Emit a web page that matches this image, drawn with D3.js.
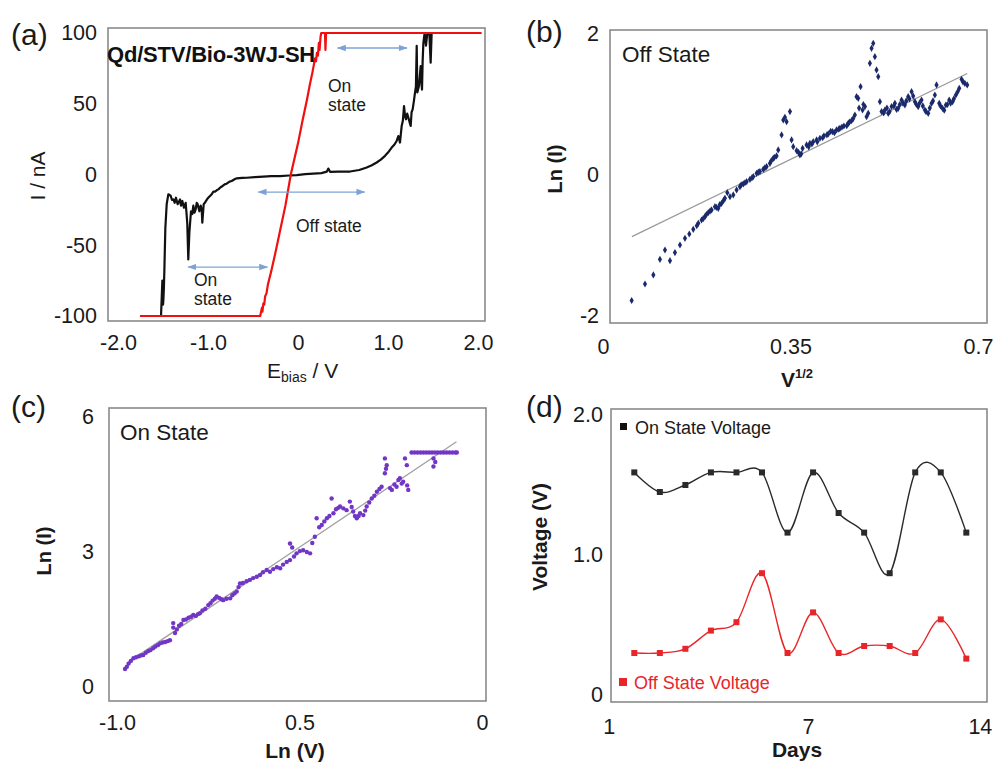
<!DOCTYPE html>
<html><head><meta charset="utf-8">
<script src="https://cdn.jsdelivr.net/npm/d3@7"></script>
<style>
html,body{margin:0;padding:0;background:#fff;}
svg{display:block;}
</style></head><body>
<svg id="chart" width="999" height="766"></svg>
<script>
// ---------------- DATA ----------------
// (a) I-V curves (E_bias in V, I in nA)
const blackIV = [[-1.53,-100],[-1.522,-100],[-1.507,-75],[-1.50,-92],[-1.496,-89],[-1.49,-80],[-1.485,-68],[-1.474,-38],[-1.459,-21],[-1.441,-14],[-1.415,-15],[-1.40,-18],[-1.385,-17.6],[-1.37,-20],[-1.356,-16.4],[-1.337,-21],[-1.311,-17.6],[-1.30,-22],[-1.285,-18.7],[-1.267,-23.5],[-1.248,-20],[-1.238,-28],[-1.230,-35],[-1.219,-60],[-1.207,-41],[-1.189,-26],[-1.175,-28],[-1.163,-22],[-1.15,-27],[-1.137,-24.6],[-1.125,-20],[-1.115,-21],[-1.096,-26],[-1.081,-22],[-1.07,-25],[-1.063,-34],[-1.048,-21],[-1.035,-20],[-1.022,-18.7],[-1.005,-17],[-0.989,-15.9],[-0.975,-15],[-0.959,-14],[-0.94,-12],[-0.922,-12.1],[-0.90,-11],[-0.885,-10.5],[-0.86,-9],[-0.837,-8.1],[-0.815,-7],[-0.793,-6.5],[-0.76,-5],[-0.737,-4.6],[-0.70,-3.2],[-0.681,-2.7],[-0.62,-2.4],[-0.57,-2.3],[-0.48,-1.8],[-0.385,-1.5],[-0.30,-1.2],[-0.20,-1.1],[-0.10,-0.7],[-0.015,-0.4],[0.08,0.2],[0.17,0.6],[0.26,1.0],[0.32,2.0],[0.337,4.2],[0.356,1.9],[0.45,2.0],[0.578,2.1],[0.68,3.2],[0.763,5.0],[0.82,6.5],[0.874,8.5],[0.92,10.5],[0.967,13.2],[1.00,15.5],[1.041,19],[1.07,21],[1.096,23.7],[1.115,27.2],[1.133,22.6],[1.152,34.3],[1.165,38],[1.178,48.4],[1.19,41],[1.200,39],[1.213,43],[1.226,40.2],[1.24,37],[1.252,34.3],[1.262,44],[1.274,46],[1.288,52],[1.300,57.8],[1.31,62],[1.319,91],[1.326,58],[1.344,62.5],[1.363,76.6],[1.370,66],[1.378,60],[1.385,80],[1.393,93],[1.407,100],[1.422,91],[1.437,100],[1.459,100],[1.474,79],[1.485,100],[1.51,100]];
const redIV = [[-1.756,-100],[-0.42,-100],[-0.41,-97],[-0.40,-94],[-0.395,-97],[-0.385,-91],[-0.375,-92],[-0.365,-86],[-0.35,-84],[-0.335,-78],[-0.32,-74],[-0.30,-69],[-0.25,-55],[-0.2,-40],[-0.14,-22],[-0.08,0],[0.0,22],[0.05,38],[0.10,53],[0.133,64],[0.16,72],[0.189,82],[0.20,80],[0.21,86],[0.222,84],[0.232,93],[0.24,88],[0.25,97],[0.258,100],[0.30,100],[0.305,88],[0.312,100],[2.04,100]];
const stateArrows = [[0.44,1.21,89.4],[-0.44,0.74,-12.4],[-1.22,-0.34,-65.4]]; // [E from, E to, I]
const aTicksX = [-2,-1,0,1,2], aLabelsX = ["-2.0","-1.0","0","1.0","2.0"];
const aTicksY = [100,50,0,-50,-100], aLabelsY = ["100","50","0","-50","-100"];

// (b) Off state: V^(1/2) vs Ln(I)
const offPts = [[0.0535,-1.78],[0.0784,-1.546],[0.094,-1.418],[0.1063,-1.196],[0.1157,-1.064],[0.125,-1.215],[0.1343,-1.101],[0.1437,-0.993],[0.153,-0.898],[0.1611,-0.837],[0.1685,-0.770],[0.1779,-0.685],[0.184,-0.638],[0.1903,-0.591],[0.1965,-0.534],[0.2027,-0.496],[0.209,-0.449],[0.2152,-0.472],[0.2214,-0.402],[0.2276,-0.331],[0.232,-0.250],[0.237,-0.307],[0.2432,-0.283],[0.2494,-0.212],[0.2556,-0.165],[0.2618,-0.127],[0.2681,-0.094],[0.2743,-0.061],[0.2805,-0.023],[0.2867,0.024],[0.2929,0.048],[0.2991,0.081],[0.3054,0.119],[0.3116,0.166],[0.3178,0.237],[0.324,0.270],[0.3271,0.355],[0.3334,0.568],[0.3365,0.780],[0.3396,0.818],[0.3427,0.757],[0.349,0.899],[0.352,0.497],[0.3551,0.402],[0.3614,0.345],[0.3676,0.284],[0.3726,0.379],[0.38,0.426],[0.3862,0.450],[0.3924,0.473],[0.3987,0.497],[0.4049,0.520],[0.4124,0.554],[0.4205,0.582],[0.4285,0.615],[0.436,0.639],[0.4422,0.662],[0.4497,0.695],[0.4578,0.733],[0.464,0.771],[0.4702,0.851],[0.4733,1.111],[0.4764,1.088],[0.4808,1.253],[0.4845,0.922],[0.4889,0.970],[0.492,0.828],[0.4951,0.875],[0.4982,1.584],[0.5013,1.797],[0.5044,1.868],[0.5075,1.679],[0.5106,1.490],[0.5138,1.395],[0.5169,1.040],[0.52,0.899],[0.5262,0.922],[0.5324,0.875],[0.5387,0.970],[0.5449,1.017],[0.5511,0.946],[0.5573,1.064],[0.5635,0.993],[0.5697,1.111],[0.576,1.182],[0.5822,1.040],[0.5884,0.970],[0.5946,1.064],[0.6008,0.922],[0.6071,0.875],[0.6133,1.017],[0.6195,1.135],[0.6226,1.277],[0.6276,1.017],[0.6338,0.946],[0.64,0.993],[0.6463,1.064],[0.6525,1.040],[0.6587,1.135],[0.665,1.230],[0.6693,1.357],[0.6755,1.300],[0.6799,1.277],
[0.365,0.32],[0.37,0.30],[0.384,0.40],[0.39,0.44],[0.40,0.47],[0.41,0.53],[0.418,0.57],[0.425,0.62],[0.432,0.60],[0.44,0.65],[0.446,0.68],[0.455,0.70],[0.46,0.75],[0.467,0.80],[0.478,0.95],[0.486,1.00],[0.524,0.88],[0.53,0.95],[0.535,0.90],[0.543,0.98],[0.548,0.93],[0.554,1.00],[0.56,1.02],[0.566,1.05],[0.572,1.08],[0.579,1.12],[0.585,1.00],[0.591,1.02],[0.597,0.98],[0.603,0.90],[0.61,0.95],[0.616,1.05],[0.63,0.98],[0.637,0.92],[0.643,1.00],[0.649,1.02],[0.655,1.08],[0.662,1.18],[0.672,1.32],[0.258,-0.14],[0.265,-0.11],[0.278,-0.04],[0.29,0.04],[0.302,0.10],[0.314,0.20],[0.32,0.25],[0.212,-0.46],[0.218,-0.42],[0.225,-0.36],[0.2,-0.51],[0.193,-0.56],[0.187,-0.62],[0.175,-0.72]];
const offFit = [[0.054,-0.874],[0.680,1.44]];
const bTicksX = [0,0.35,0.7], bLabelsX = ["0","0.35","0.7"];
const bTicksY = [2,0,-2], bLabelsY = ["2","0","-2"];

// (c) On state: Ln(V) vs Ln(I)
const onPts = [[-0.978,0.40],[-0.973,0.45],[-0.968,0.52],[-0.962,0.58],[-0.955,0.64],[-0.948,0.66],[-0.941,0.68],[-0.935,0.70],[-0.928,0.71],[-0.921,0.76],[-0.914,0.80],[-0.908,0.82],[-0.901,0.86],[-0.895,0.90],[-0.888,0.93],[-0.882,0.97],[-0.875,0.99],[-0.868,1.00],[-0.861,1.02],[-0.855,1.04],[-0.846,1.42],[-0.846,1.32],[-0.841,1.20],[-0.836,1.28],[-0.830,1.36],[-0.824,1.40],[-0.818,1.49],[-0.811,1.50],[-0.804,1.54],[-0.797,1.56],[-0.791,1.60],[-0.784,1.58],[-0.778,1.62],[-0.773,1.64],[-0.766,1.70],[-0.758,1.74],[-0.750,1.82],[-0.744,1.86],[-0.738,1.92],[-0.732,1.96],[-0.727,2.01],[-0.720,1.98],[-0.714,1.95],[-0.709,1.93],[-0.700,1.96],[-0.690,1.97],[-0.684,2.04],[-0.678,2.08],[-0.672,2.12],[-0.667,2.22],[-0.663,2.30],[-0.655,2.31],[-0.645,2.35],[-0.636,2.38],[-0.627,2.42],[-0.617,2.45],[-0.608,2.49],[-0.600,2.55],[-0.590,2.60],[-0.581,2.56],[-0.572,2.62],[-0.562,2.66],[-0.553,2.64],[-0.545,2.72],[-0.535,2.78],[-0.526,2.82],[-0.526,3.19],[-0.520,3.10],[-0.515,2.90],[-0.508,2.97],[-0.499,3.02],[-0.490,3.04],[-0.480,3.00],[-0.471,2.97],[-0.465,3.20],[-0.458,3.34],[-0.453,3.75],[-0.446,3.55],[-0.439,3.60],[-0.432,3.68],[-0.425,3.75],[-0.418,3.80],[-0.412,4.19],[-0.407,3.86],[-0.400,3.95],[-0.394,3.98],[-0.389,4.01],[-0.380,3.97],[-0.371,3.93],[-0.362,4.12],[-0.357,4.00],[-0.353,3.90],[-0.348,3.80],[-0.343,3.75],[-0.338,3.80],[-0.334,3.86],[-0.325,3.82],[-0.320,3.92],[-0.316,4.01],[-0.309,4.10],[-0.302,4.19],[-0.295,4.25],[-0.288,4.34],[-0.281,4.40],[-0.275,4.45],[-0.266,5.08],[-0.266,4.75],[-0.263,4.85],[-0.261,4.93],[-0.252,4.42],[-0.247,4.38],[-0.240,4.50],[-0.234,4.45],[-0.229,4.60],[-0.225,4.64],[-0.220,4.52],[-0.216,4.56],[-0.211,5.08],[-0.206,4.93],[-0.202,4.38],[-0.205,4.48],
[-0.193,5.21],[-0.185,5.21],[-0.177,5.21],[-0.169,5.21],[-0.161,5.21],[-0.153,5.21],[-0.145,5.21],[-0.137,5.21],[-0.129,5.21],[-0.121,5.21],[-0.113,5.21],[-0.105,5.21],[-0.097,5.21],[-0.089,5.21],[-0.081,5.21],[-0.073,5.21],[-0.069,5.21],[-0.133,5.08],[-0.133,4.90],[-0.128,5.0]];
const onFit = [[-0.973,0.53],[-0.070,5.45]];
const cTicksX = [-1,-0.5,0], cLabelsX = ["-1.0","0.5","0"];
const cTicksY = [6,3,0], cLabelsY = ["6","3","0"];

// (d) Voltage vs days
const days = [1,2,3,4,5,6,7,8,9,10,11,12,13,14];
const onVoltage  = [1.59,1.45,1.50,1.59,1.59,1.59,1.16,1.59,1.30,1.16,0.87,1.59,1.59,1.16];
const offVoltage = [0.30,0.30,0.33,0.46,0.52,0.87,0.30,0.59,0.30,0.35,0.35,0.30,0.54,0.26];
const dTickPos = [0,7.8,14.53], dLabelsX = ["1","7","14"];
const dTicksY = [2,1,0], dLabelsY = ["2.0","1.0","0"];

// ---------------- DRAW ----------------
const F = '"Liberation Sans", Arial, Helvetica, sans-serif';
const TICK_FS = 21.5;
const svg = d3.select('#chart');
svg.append('rect').attr('width',999).attr('height',766).attr('fill','#fff');

function frame(x, y) {
  const [x0,x1] = x.range(), [y1,y0] = y.range();
  svg.append('rect').attr('x',x0).attr('y',y0).attr('width',x1-x0).attr('height',y1-y0)
    .attr('fill','none').attr('stroke','#8a8a8a').attr('stroke-width',1.6);
}
function styleAxis(g, fs) {
  g.select('.domain').remove();
  g.selectAll('text').attr('font-family',F).attr('font-size',fs).attr('fill','#1a1a1a');
}
function axes(x, y, tx, lx, ty, ly, padB, padL, fs) {
  const yb = y.range()[0], xl = x.range()[0];
  svg.append('g').attr('transform',`translate(0,${yb})`)
    .call(d3.axisBottom(x).tickValues(tx).tickFormat((d,i)=>lx[i]).tickSize(0).tickPadding(padB))
    .call(g=>styleAxis(g,fs));
  svg.append('g').attr('transform',`translate(${xl},0)`)
    .call(d3.axisLeft(y).tickValues(ty).tickFormat((d,i)=>ly[i]).tickSize(0).tickPadding(padL))
    .call(g=>styleAxis(g,fs));
}
function txt(x, y, s, o={}) {
  const t = svg.append('text').attr('x',x).attr('y',y).text(s)
    .attr('font-family',F).attr('font-size',o.fs||20).attr('fill',o.fill||'#1a1a1a')
    .attr('text-anchor',o.anchor||'start').attr('font-weight',o.fw||'normal');
  if (o.rot) t.attr('transform',`rotate(-90,${x},${y})`);
  return t;
}

// ===== Panel (a) =====
{
  const x = d3.scaleLinear().domain([-2,2]).range([118,478]);
  const y = d3.scaleLinear().domain([-100,100]).range([316,33]);
  const xr = d3.scaleLinear().domain([x.invert(108), x.invert(485)]).range([108,485]);
  const yr = d3.scaleLinear().domain([y.invert(321), y.invert(28)]).range([321,28]);
  frame(xr, yr);
  axes(xr, yr, aTicksX, aLabelsX, aTicksY, aLabelsY, 14, 11, TICK_FS);
  const line = d3.line().x(d=>x(d[0])).y(d=>y(d[1]));
  svg.append('path').datum(blackIV).attr('d',line).attr('fill','none').attr('stroke','#111').attr('stroke-width',2.2).attr('stroke-linejoin','round');
  svg.append('path').datum(redIV).attr('d',line).attr('fill','none').attr('stroke','#f01010').attr('stroke-width',2.2).attr('stroke-linejoin','round');
  const defs = svg.append('defs');
  defs.append('marker').attr('id','ah').attr('viewBox','0 0 10 10').attr('refX',9).attr('refY',5)
    .attr('markerWidth',7).attr('markerHeight',7).attr('orient','auto-start-reverse')
    .append('path').attr('d','M0,1.5 L10,5 L0,8.5 Z').attr('fill','#7da3d4');
  svg.selectAll('line.arr').data(stateArrows).join('line').attr('class','arr')
    .attr('x1',d=>x(d[0])).attr('x2',d=>x(d[1])).attr('y1',d=>y(d[2])).attr('y2',d=>y(d[2]))
    .attr('stroke','#7da3d4').attr('stroke-width',1.3)
    .attr('marker-start','url(#ah)').attr('marker-end','url(#ah)');
  txt(107, 62, 'Qd/STV/Bio-3WJ-SH', {fs:22, fw:'bold', fill:'#111'}).attr('letter-spacing',-0.2);
  txt(328, 92, 'On', {fs:17.5}); txt(328, 111, 'state', {fs:17.5});
  txt(296, 232, 'Off state', {fs:17.5});
  txt(194, 286, 'On', {fs:17.5}); txt(194, 305, 'state', {fs:17.5});
  txt(11, 45, '(a)', {fs:30});
  txt(45, 176, 'I / nA', {fs:21, rot:true, anchor:'middle'});
  const t = txt(267, 378, 'E', {fs:21});
  t.append('tspan').attr('font-size',14).attr('dy',4).text('bias');
  t.append('tspan').attr('font-size',21).attr('dy',-4).text(' /  V');
}

// ===== Panel (b) =====
{
  const x = d3.scaleLinear().domain([0,0.7]).range([603,978]);
  const y = d3.scaleLinear().domain([-2,2]).range([316,34]);
  const xr = d3.scaleLinear().domain([x.invert(610), x.invert(987)]).range([610,987]);
  const yr = d3.scaleLinear().domain([y.invert(323), y.invert(30)]).range([323,30]);
  frame(xr, yr);
  axes(xr, yr, bTicksX, bLabelsX, bTicksY, bLabelsY, 16, 11, TICK_FS);
  svg.append('line').attr('x1',x(offFit[0][0])).attr('y1',y(offFit[0][1]))
    .attr('x2',x(offFit[1][0])).attr('y2',y(offFit[1][1])).attr('stroke','#9a9a9a').attr('stroke-width',1.3);
  const sym = d3.symbol().type(d3.symbolDiamond).size(15);
  svg.append('g').selectAll('path').data(offPts).join('path')
    .attr('transform',d=>`translate(${x(d[0])},${y(d[1])})`).attr('d',sym).attr('fill','#1b2a6b');
  txt(622, 62, 'Off State', {fs:22.5});
  txt(526, 42, '(b)', {fs:30});
  txt(562, 169, 'Ln  (I)', {fs:20, rot:true, anchor:'middle', fw:'bold'});
  const t = txt(781, 387, 'V', {fs:21, fw:'bold'});
  t.append('tspan').attr('font-size',13).attr('dy',-9).text('1/2');
}

// ===== Panel (c) =====
{
  const x = d3.scaleLinear().domain([-1,0]).range([117,482]);
  const y = d3.scaleLinear().domain([0,6]).range([687,417]);
  const xr = d3.scaleLinear().domain([x.invert(109), x.invert(486)]).range([109,486]);
  const yr = d3.scaleLinear().domain([y.invert(701), y.invert(408)]).range([701,408]);
  frame(xr, yr);
  axes(xr, yr, cTicksX, cLabelsX, cTicksY, cLabelsY, 14, 15, TICK_FS);
  svg.append('line').attr('x1',x(onFit[0][0])).attr('y1',y(onFit[0][1]))
    .attr('x2',x(onFit[1][0])).attr('y2',y(onFit[1][1])).attr('stroke','#a0a0a0').attr('stroke-width',1.3);
  svg.append('g').selectAll('circle').data(onPts).join('circle')
    .attr('cx',d=>x(d[0])).attr('cy',d=>y(d[1])).attr('r',2.2).attr('fill','#7236c6');
  txt(120, 440, 'On State', {fs:22.5});
  txt(11, 417, '(c)', {fs:30});
  txt(51, 551, 'Ln  (I)', {fs:20, rot:true, anchor:'middle', fw:'bold'});
  txt(295, 758, 'Ln (V)', {fs:21, anchor:'middle', fw:'bold'});
}

// ===== Panel (d) =====
{
  const x = d3.scaleLinear().domain([1,14]).range([634.3,966.3]);
  const y = d3.scaleLinear().domain([0,2]).range([695,415]);
  const xr = d3.scaleLinear().domain([x.invert(611), x.invert(987)]).range([611,987]);
  const yr = d3.scaleLinear().domain([y.invert(702), y.invert(409)]).range([702,409]);
  frame(xr, yr);
  axes(xr, yr, dTickPos, dLabelsX, dTicksY, dLabelsY, 17, 8, TICK_FS);
  const series = [{v:onVoltage, c:'#2a2a2a'}, {v:offVoltage, c:'#e8262a'}];
  const line = d3.line().x((d,i)=>x(days[i])).y(d=>y(d)).curve(d3.curveCardinal.tension(0));
  series.forEach(s => {
    svg.append('path').datum(s.v).attr('d',line).attr('fill','none').attr('stroke',s.c).attr('stroke-width',1.4);
    svg.append('g').selectAll('rect').data(s.v).join('rect')
      .attr('x',(d,i)=>x(days[i])-3).attr('y',d=>y(d)-3).attr('width',6).attr('height',6).attr('fill',s.c);
  });
  svg.append('rect').attr('x',620).attr('y',423).attr('width',7).attr('height',7).attr('fill','#111');
  txt(635, 434, 'On State Voltage', {fs:18, fill:'#1a1a1a'});
  svg.append('rect').attr('x',619).attr('y',678).attr('width',8).attr('height',8).attr('fill','#e8262a');
  txt(634, 689, 'Off State Voltage', {fs:18, fill:'#e8262a'});
  txt(526, 417, '(d)', {fs:30});
  txt(547, 537, 'Voltage (V)', {fs:21, rot:true, anchor:'middle', fw:'bold'});
  txt(797, 757, 'Days', {fs:21, anchor:'middle', fw:'bold'});
}
</script>
</body></html>
